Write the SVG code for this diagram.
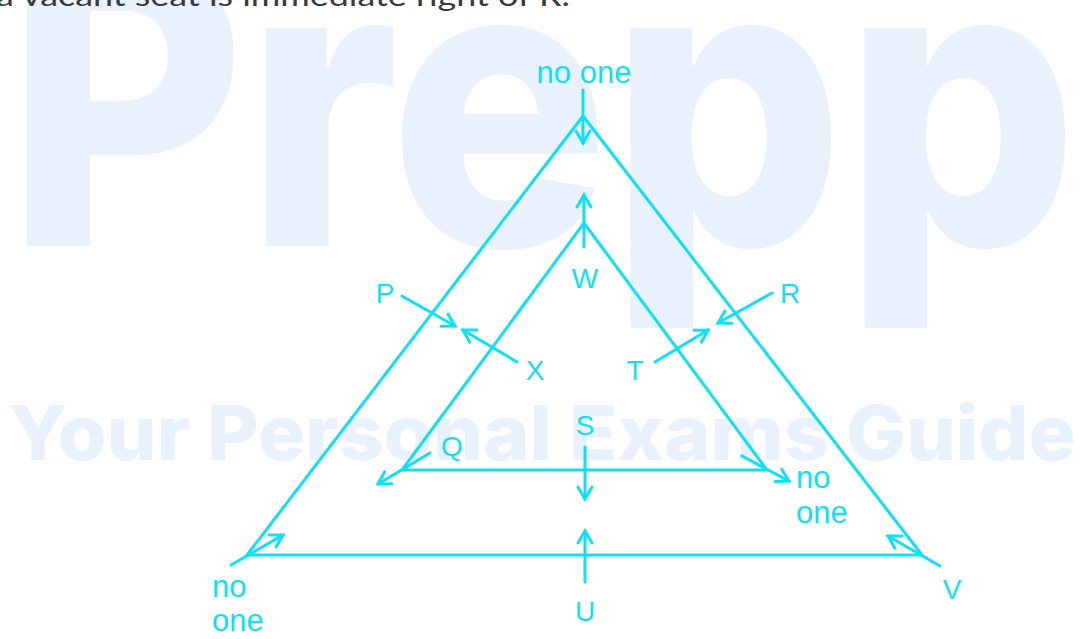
<svg xmlns="http://www.w3.org/2000/svg" width="1080" height="639" viewBox="0 0 1080 639">
  <style>
    .wm { fill: #E9F1FC; font-family: Inter, "Open Sans", sans-serif; font-weight: 800; }
    .ln { stroke: #0FE0F2; stroke-width: 3; fill: none; stroke-linecap: round; }
    .ar { stroke: #0FE0F2; stroke-width: 3; fill: none; stroke-linecap: round; marker-end: url(#ah); }
    .lb { fill: #0FE0F2; font-family: "Liberation Sans", Arial, sans-serif; font-size: 28px; }
    .lo { fill: #0FE0F2; font-family: "Liberation Sans", Arial, sans-serif; font-size: 31px; }
  </style>
  <defs>
    <marker id="ah" markerUnits="userSpaceOnUse" markerWidth="30" markerHeight="30" refX="0" refY="0" viewBox="-15 -15 30 30" orient="auto">
      <path d="M -12 -7 L 0 0 L -12 7" stroke="#0FE0F2" stroke-width="3" fill="none" stroke-linecap="round" stroke-linejoin="miter"/>
    </marker>
  </defs>
  <rect width="1080" height="639" fill="#FFFFFF"/>
  <g id="watermark">
    <text class="wm" x="6" y="246" font-size="400" textLength="1072" lengthAdjust="spacingAndGlyphs">Prepp</text>
    <text class="wm" x="8" y="460" font-size="76" textLength="1068" lengthAdjust="spacingAndGlyphs">Your Personal Exams Guide</text>
  </g>
  <text x="-4" y="6" fill="#3A3A3A" font-family="Lato, 'Open Sans', sans-serif" font-size="28" textLength="574" lengthAdjust="spacingAndGlyphs">a vacant seat is immediate right of R.</text>
  <g id="tables">
    <polygon class="ln" points="583,116 922,555 247,555" stroke-linejoin="miter"/>
    <polygon class="ln" points="584,223 767,470 402,470" stroke-linejoin="miter"/>
  </g>
  <g id="connectors">
    <line class="ar" x1="583" y1="90" x2="583" y2="143"/>
    <line class="ar" x1="584" y1="247" x2="584" y2="195"/>
    <line class="ar" x1="402" y1="296" x2="455" y2="326"/>
    <line class="ar" x1="517" y1="362" x2="463" y2="330"/>
    <line class="ar" x1="772" y1="293" x2="718" y2="323"/>
    <line class="ar" x1="655" y1="362" x2="708" y2="330"/>
    <line class="ar" x1="430" y1="453" x2="378" y2="484"/>
    <line class="ar" x1="742" y1="456" x2="789" y2="481"/>
    <line class="ar" x1="585" y1="447" x2="585" y2="499"/>
    <line class="ar" x1="585" y1="582" x2="585" y2="531"/>
    <line class="ar" x1="231" y1="565" x2="283" y2="535"/>
    <line class="ar" x1="940" y1="566" x2="888" y2="536"/>
  </g>
  <g id="node-top-noone"><text class="lo" x="584" y="83" text-anchor="middle">no one</text></g>
  <g id="node-P"><text class="lb" x="385" y="303" text-anchor="middle">P</text></g>
  <g id="node-R"><text class="lb" x="790" y="303" text-anchor="middle">R</text></g>
  <g id="node-W"><text class="lb" x="585" y="288" text-anchor="middle">W</text></g>
  <g id="node-X"><text class="lb" x="535" y="380" text-anchor="middle">X</text></g>
  <g id="node-T"><text class="lb" x="635" y="380" text-anchor="middle">T</text></g>
  <g id="node-Q"><text class="lb" x="452" y="456" text-anchor="middle">Q</text></g>
  <g id="node-S"><text class="lb" x="585" y="435" text-anchor="middle">S</text></g>
  <g id="node-U"><text class="lb" x="585" y="621" text-anchor="middle">U</text></g>
  <g id="node-V"><text class="lb" x="952" y="599" text-anchor="middle">V</text></g>
  <g id="node-right-noone"><text class="lo" x="796" y="488">no</text><text class="lo" x="796" y="523">one</text></g>
  <g id="node-left-noone"><text class="lo" x="212" y="597">no</text><text class="lo" x="212" y="631">one</text></g>
</svg>
